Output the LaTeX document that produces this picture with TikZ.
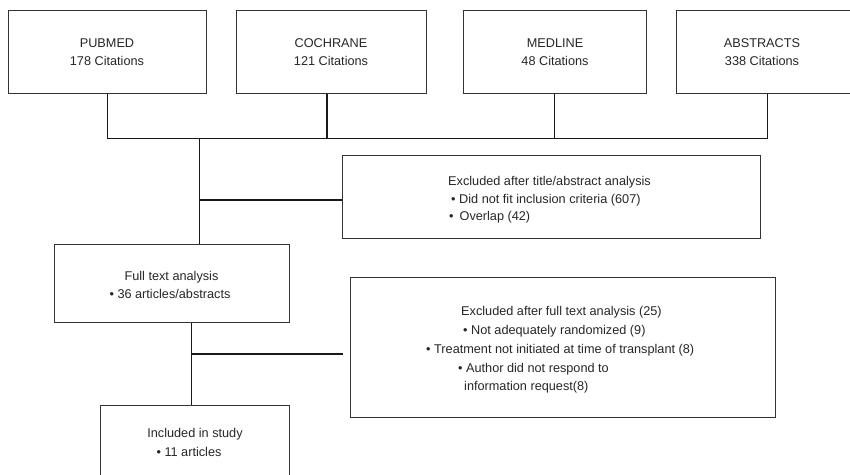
\documentclass[tikz,border=0pt]{standalone}
\usepackage{fontspec}
\setmainfont{Liberation Sans}
\begin{document}
\begin{tikzpicture}[x=1pt,y=-1pt,
  box/.style={draw=black!80, line width=1pt, inner sep=0pt, fill=none},
  txt/.style={inner sep=0pt, text=black!85, font=\fontsize{12.7}{18}\selectfont},
  link/.style={draw=black!90, line width=1pt},
  blink/.style={draw=black!90, line width=1.5pt}]
\useasboundingbox (0,0) rectangle (850,474);
% source boxes
\node[box, minimum width=198pt, minimum height=83pt] (pubmed) at (107,51.5) {};
\node[box, minimum width=190pt, minimum height=83pt] (cochrane) at (331,51.5) {};
\node[box, minimum width=183pt, minimum height=83pt] (medline) at (554.5,51.5) {};
\node[box, minimum width=174pt, minimum height=83pt] (abstracts) at (763,51.5) {};
\node[txt, anchor=base] (t1a) at (107,47.3) {PUBMED};
\node[txt, anchor=base] (t1b) at (107,65.5) {178 Citations};
\node[txt, anchor=base] (t2a) at (331,47.3) {COCHRANE};
\node[txt, anchor=base] (t2b) at (331,65.5) {121 Citations};
\node[txt, anchor=base] (t3a) at (555,47.3) {MEDLINE};
\node[txt, anchor=base] (t3b) at (555,65.5) {48 Citations};
\node[txt, anchor=base] (t4a) at (762,47.3) {ABSTRACTS};
\node[txt, anchor=base] (t4b) at (762,65.5) {338 Citations};
% excluded 1
\node[box, minimum width=418pt, minimum height=83pt] (excl1) at (551,196.5) {};
\node[txt, anchor=base west] (e1a) at (448,185) {Excluded after title/abstract analysis};
\node[txt, anchor=base west] (e1b) at (451,203) {• Did not fit inclusion criteria (607)};
\node[txt, anchor=base west] (e1c) at (449,220.5) {•\hspace{6pt}Overlap (42)};
% full text
\node[box, minimum width=235pt, minimum height=78pt] (fulltext) at (171.5,283) {};
\node[txt, anchor=base] (fa) at (171.5,280) {Full text analysis};
\node[txt, anchor=base] (fb) at (170,298) {• 36 articles/abstracts};
% excluded 2
\node[box, minimum width=425pt, minimum height=140pt] (excl2) at (562.5,347) {};
\node[txt, anchor=base west] (e2a) at (461,315) {Excluded after full text analysis (25)};
\node[txt, anchor=base west] (e2b) at (463,334) {• Not adequately randomized (9)};
\node[txt, anchor=base west] (e2c) at (426,353) {• Treatment not initiated at time of transplant (8)};
\node[txt, anchor=base west] (e2d) at (458,372) {• Author did not respond to};
\node[txt, anchor=base west] (e2e) at (464,390.5) {information request(8)};
% included
\node[box, minimum width=189pt, minimum height=80pt] (included) at (194.5,445) {};
\node[txt, anchor=base] (ia) at (195,437) {Included in study};
\node[txt, anchor=base] (ib) at (189,456) {• 11 articles};
% connectors
\coordinate (jL) at (107,138);
\coordinate (jR) at (767,138);
\coordinate (hub) at (199,138);
\coordinate (b1) at (199,200);
\coordinate (b2) at (191,354);
\draw[link] (pubmed.south) -- (jL) -- (jR) -- (jR |- abstracts.south);
\draw[link, line width=1.4pt] ([xshift=-4pt]cochrane.south) -- ([xshift=-4pt]cochrane.south |- jL);
\draw[link, line width=1.4pt] (medline.south) -- (medline.south |- jL);
\draw[link] (hub) -- (hub |- fulltext.north);
\draw[blink] (b1) -- (b1 -| excl1.west);
\draw[link] (b2 |- fulltext.south) -- (b2 |- included.north);
\draw[blink, shorten >=7pt] (b2) -- (b2 -| excl2.west);
\end{tikzpicture}
\end{document}
